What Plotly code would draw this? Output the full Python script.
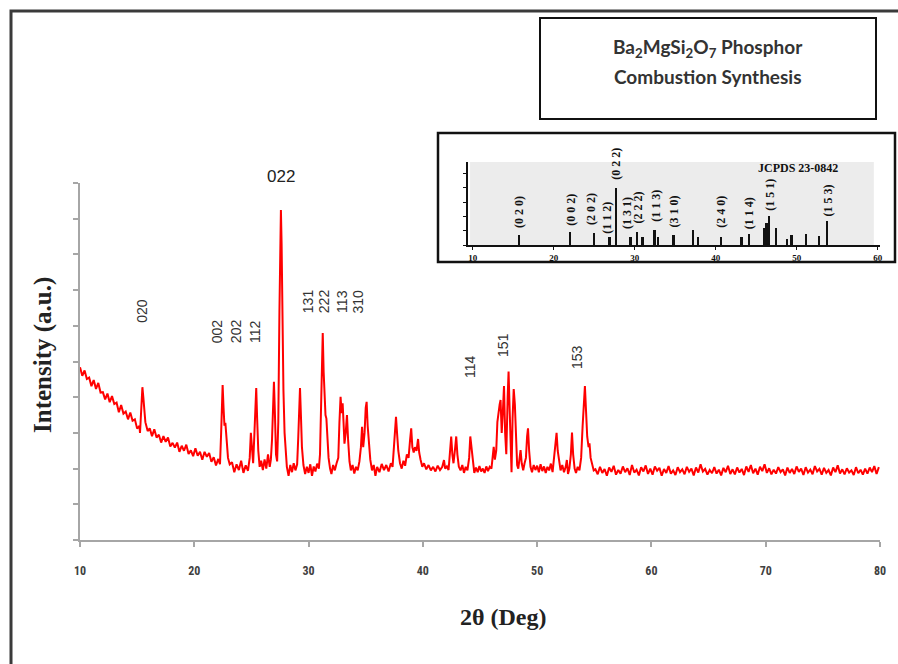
import plotly.graph_objects as go

# ---------------- measured XRD pattern (2θ in degrees, intensity in a.u.) ----------------
low_2theta = [
    10.0, 10.2, 10.4, 10.6, 10.8, 11.0, 11.2, 11.4, 11.6, 11.8,
    12.0, 12.2, 12.4, 12.6, 12.8, 13.0, 13.2, 13.4, 13.6, 13.8,
    14.0, 14.2, 14.4, 14.6, 14.8, 15.0, 15.2,
    15.25, 15.3, 15.38, 15.46, 15.54, 15.62, 15.72, 15.82, 15.92,
    16.1, 16.3, 16.5, 16.7, 16.9, 17.1, 17.3, 17.5, 17.7, 17.9,
    18.1, 18.3, 18.5, 18.7, 18.9, 19.1, 19.3, 19.5, 19.7, 19.9,
    20.1, 20.3, 20.5, 20.7, 20.9, 21.1, 21.3, 21.5, 21.7, 21.9, 22.1,
    22.25, 22.35, 22.42, 22.48, 22.56, 22.64, 22.72, 22.82, 22.95, 23.1,
]
low_counts = [
    484, 460, 475, 451, 455, 431, 448, 423, 440, 413,
    414, 394, 410, 386, 403, 381, 385, 358, 378, 354,
    360, 338, 357, 334, 338, 312, 320,
    300, 330, 395, 428, 400, 360, 330, 318, 305,
    313, 291, 310, 287, 295, 273, 291, 275, 287, 262,
    272, 259, 273, 247, 264, 250, 267, 241, 251, 235,
    257, 236, 247, 225, 247, 233, 244, 219, 232, 209, 227,
    212, 300, 400, 434, 370, 320, 328, 270, 230, 212,
]

mid_2theta = [
    23.3, 23.5, 23.7, 23.9, 24.1, 24.3, 24.5, 24.7, 24.85, 24.95,
    25.05, 25.15, 25.25, 25.34, 25.42, 25.5, 25.6, 25.72, 25.85, 26.0,
    26.15, 26.3, 26.45, 26.6, 26.7, 26.8, 26.9, 26.97, 27.05, 27.15,
    27.25, 27.35, 27.45, 27.52, 27.58, 27.64, 27.72, 27.8, 27.9, 28.0,
    28.1, 28.25, 28.4, 28.55, 28.7, 28.85, 29.0, 29.1, 29.18, 29.25,
    29.33, 29.42, 29.55, 29.7, 29.85, 30.0, 30.15, 30.3, 30.45, 30.6,
    30.75, 30.9, 31.0, 31.08, 31.16, 31.24, 31.32, 31.4, 31.48, 31.56,
    31.65, 31.75, 31.88, 32.0, 32.15, 32.3, 32.45, 32.6, 32.7, 32.8,
    32.9, 32.98, 33.06, 33.14, 33.25, 33.36, 33.46, 33.58, 33.7, 33.85,
    34.0, 34.15, 34.3, 34.45, 34.58, 34.68, 34.78, 34.9, 35.0, 35.08,
    35.17, 35.28, 35.4, 35.55, 35.7, 35.85, 36.0, 36.2, 36.4, 36.6,
    36.8, 37.0, 37.2, 37.35, 37.48, 37.58, 37.65, 37.74, 37.85, 38.0,
    38.15, 38.3, 38.45, 38.6, 38.75, 38.88, 38.98, 39.08, 39.2, 39.3,
    39.45, 39.58, 39.68, 39.8, 39.95, 40.1, 40.3, 40.5, 40.7, 40.9,
    41.1, 41.3, 41.5, 41.7, 41.85, 41.95, 42.1, 42.25, 42.38, 42.48,
    42.58, 42.68, 42.8, 42.92, 43.02, 43.15, 43.3, 43.45, 43.6, 43.75,
    43.9, 44.05, 44.15, 44.25, 44.38, 44.5, 44.65, 44.8, 44.95, 45.1,
    45.25, 45.4, 45.55, 45.7, 45.85, 46.0, 46.1, 46.2, 46.3, 46.42,
    46.52, 46.62, 46.72, 46.8, 46.9, 47.0, 47.1, 47.2, 47.3, 47.42,
    47.5, 47.58, 47.68, 47.76, 47.85, 47.95, 48.05, 48.15, 48.25, 48.35,
    48.45, 48.55, 48.65, 48.78, 48.9, 49.02, 49.12, 49.2, 49.3, 49.42,
    49.55, 49.7, 49.85, 50.0, 50.15, 50.3, 50.45, 50.6, 50.75, 50.9,
    51.05, 51.2, 51.35, 51.5, 51.62, 51.7, 51.8, 51.92, 52.05, 52.2,
    52.35, 52.5, 52.6, 52.7, 52.82, 52.95, 53.05, 53.15, 53.28, 53.4,
    53.55, 53.7, 53.85, 53.98, 54.08, 54.18, 54.28, 54.38, 54.5, 54.58,
    54.68, 54.8, 54.95,
]
mid_counts = [
    218, 190, 212, 196, 222, 188, 209, 194, 230, 300,
    245, 215, 290, 400, 426, 340, 250, 205, 222, 196,
    226, 200, 240, 205, 225, 280, 400, 443, 360, 240,
    220, 330, 640, 860, 924, 830, 600, 420, 300, 240,
    205, 180, 210, 190, 215, 195, 212, 290, 390, 426,
    350, 260, 210, 185, 205, 188, 212, 180, 206, 192,
    214, 200, 240, 330, 470, 580, 470, 380, 350, 340,
    280, 230, 200, 185, 210, 195, 215, 230, 330, 401,
    355, 383, 330, 270, 300, 350, 280, 220, 195, 210,
    186, 205, 195, 220, 260, 317, 260, 300, 370, 387,
    320, 260, 225, 195, 210, 180, 205, 190, 213, 196,
    210, 192, 215, 205, 270, 330, 345, 300, 250, 215,
    200, 222, 208, 240, 230, 280, 313, 260, 245, 260,
    250, 283, 245, 225, 205, 215, 198, 210, 195, 205,
    192, 208, 196, 205, 224, 200, 206, 196, 250, 290,
    240, 215, 250, 290, 240, 205, 195, 210, 188, 205,
    195, 230, 290, 260, 210, 188, 203, 190, 207, 192,
    200, 188, 206, 193, 205, 200, 230, 261, 225, 250,
    330, 360, 380, 392, 300, 360, 431, 300, 240, 400,
    472, 380, 220, 190, 340, 423, 380, 290, 210, 200,
    225, 252, 215, 195, 215, 230, 290, 313, 250, 205,
    190, 210, 196, 208, 190, 212, 193, 206, 188, 205,
    195, 214, 190, 240, 290, 300, 250, 220, 195, 210,
    190, 205, 224, 185, 200, 240, 301, 240, 200, 188,
    205, 195, 230, 320, 400, 431, 360, 290, 260, 271,
    230, 210, 195,
]

high_2theta = [
    55.1, 55.3, 55.5, 55.7, 55.9, 56.1, 56.3, 56.5, 56.7, 56.9,
    57.1, 57.3, 57.5, 57.7, 57.9, 58.1, 58.3, 58.5, 58.7, 58.9,
    59.1, 59.3, 59.5, 59.7, 59.9, 60.1, 60.3, 60.5, 60.7, 60.9,
    61.1, 61.3, 61.5, 61.7, 61.9, 62.1, 62.3, 62.5, 62.7, 62.9,
    63.1, 63.3, 63.5, 63.7, 63.9, 64.1, 64.3, 64.5, 64.7, 64.9,
    65.1, 65.3, 65.5, 65.7, 65.9, 66.1, 66.3, 66.5, 66.7, 66.9,
    67.1, 67.3, 67.5, 67.7, 67.9, 68.1, 68.3, 68.5, 68.7, 68.9,
    69.1, 69.3, 69.5, 69.7, 69.9, 70.1, 70.3, 70.5, 70.7, 70.9,
    71.1, 71.3, 71.5, 71.7, 71.9, 72.1, 72.3, 72.5, 72.7, 72.9,
    73.1, 73.3, 73.5, 73.7, 73.9, 74.1, 74.3, 74.5, 74.7, 74.9,
    75.1, 75.3, 75.5, 75.7, 75.9, 76.1, 76.3, 76.5, 76.7, 76.9,
    77.1, 77.3, 77.5, 77.7, 77.9, 78.1, 78.3, 78.5, 78.7, 78.9,
    79.1, 79.3, 79.5, 79.7, 79.9,
]
high_counts = [
    198, 184, 205, 188, 199, 180, 203, 191, 208, 183,
    196, 186, 206, 190, 201, 182, 210, 189, 197, 181,
    204, 192, 209, 185, 200, 183, 206, 194, 202, 180,
    199, 188, 207, 186, 195, 182, 204, 190, 198, 184,
    205, 191, 200, 181, 203, 189, 212, 192, 199, 183,
    196, 187, 204, 186, 197, 181, 202, 190, 208, 185,
    198, 184, 203, 189, 199, 182, 206, 191, 210, 187,
    200, 183, 205, 193, 212, 188, 201, 184, 197, 186,
    204, 190, 198, 181, 203, 188, 199, 185, 206, 191,
    200, 182, 204, 189, 197, 184, 207, 192, 199, 183,
    202, 188, 196, 181, 203, 190, 209, 186, 198, 184,
    201, 189, 195, 182, 204, 187, 197, 183, 200, 186,
    203, 190, 207, 185, 204,
]

# ---------------- Miller indices written over the measured peaks ----------------
hkl_labels = ["020", "002", "202", "112", "131", "222", "113", "310", "114", "151", "153"]
hkl_2theta = [15.4, 22.0, 23.65, 25.3, 29.95, 31.35, 32.9, 34.35, 44.12, 47.0, 53.5]
hkl_height = [641, 585, 585, 585, 669, 669, 669, 669, 487, 546, 513]
strong_label = "022"
strong_2theta = 27.55
strong_height = 985

# ---------------- JCPDS 23-0842 reference lines (relative intensity) ----------------
ref_2theta = [15.75, 22.05, 25.0, 26.9, 27.7, 29.5, 30.3, 31.0, 32.5, 32.9,
              34.8, 37.2, 37.85, 40.65, 43.2, 44.15, 46.0, 46.3, 46.6, 47.45,
              48.8, 49.4, 51.2, 52.8, 53.8]
ref_intensity = [17.5, 23, 21, 14, 100, 14, 23, 14, 26, 14,
                 17.5, 26, 14, 14, 14, 19, 30, 39, 51, 30,
                 10, 17.5, 19, 16, 42]
ref_hkl = ["(0 2 0)", "(0 0 2)", "(2 0 2)", "(1 1 2)", "(0 2 2)", "(1 3 1)", "(2 2 2)",
           "(1 1 3)", "(3 1 0)", "(2 4 0)", "(1 1 4)", "(1 5 1)", "(1 5 3)"]
ref_hkl_2theta = [15.75, 22.1, 24.6, 26.65, 27.7, 29.05, 30.37, 32.6, 34.8, 40.65, 44.15, 46.6, 53.8]
ref_hkl_height = [58, 61, 63, 47, 142, 56, 65, 68, 58, 58, 56, 88, 77]

two_theta = low_2theta + mid_2theta + high_2theta
counts = low_counts + mid_counts + high_counts

# ---------------- page geometry helpers (paper coordinates) ----------------
W, H = 898, 664
ML, MR, MT, MB = 80, 18, 10, 124
PW, PH = W - ML - MR, H - MT - MB


def px(x):
    return (x - ML) / PW


def py(y):
    return (H - MB - y) / PH


SERIF = "Liberation Serif, Times New Roman, serif"
SANS = "Liberation Sans, Arial, sans-serif"
NARROW = "Liberation Sans Narrow, Arial Narrow, Roboto Condensed, sans-serif"

fig = go.Figure()

fig.add_trace(go.Scatter(
    x=two_theta, y=counts, mode="lines",
    line=dict(color="#ff0000", width=2),
    xaxis="x", yaxis="y", showlegend=False, hoverinfo="skip",
))

fig.add_trace(go.Bar(
    x=ref_2theta, y=ref_intensity, width=0.24,
    marker=dict(color="#111111", line=dict(width=0)),
    xaxis="x2", yaxis="y2", showlegend=False, hoverinfo="skip",
))

annotations = []
for lab, xv, yv in zip(hkl_labels, hkl_2theta, hkl_height):
    annotations.append(dict(
        x=xv, y=yv, xref="x", yref="y", text=lab, textangle=-90, showarrow=False,
        xanchor="center", yanchor="middle",
        font=dict(family=SANS, size=14, color="#333333"),
    ))
annotations.append(dict(
    x=strong_2theta, y=strong_height, xref="x", yref="y", text=strong_label,
    showarrow=False, xanchor="center", yanchor="bottom",
    font=dict(family=SANS, size=17, color="#222222"),
))
for lab, xv, yv in zip(ref_hkl, ref_hkl_2theta, ref_hkl_height):
    annotations.append(dict(
        x=xv, y=yv, xref="x2", yref="y2", text="<b>%s</b>" % lab, textangle=-90,
        showarrow=False, xanchor="center", yanchor="middle",
        font=dict(family=SERIF, size=12, color="#111111"),
    ))
annotations.append(dict(
    x=50.2, y=135, xref="x2", yref="y2", text="<b>JCPDS 23-0842</b>", showarrow=False,
    xanchor="center", yanchor="middle",
    font=dict(family=SERIF, size=12, color="#111111"),
))

# title box text
annotations.append(dict(
    x=px(708), y=py(48), xref="paper", yref="paper", showarrow=False,
    xanchor="center", yanchor="middle",
    text="<b>Ba<sub>2</sub>MgSi<sub>2</sub>O<sub>7</sub> Phosphor</b>",
    font=dict(family="Lato, Open Sans, sans-serif", size=19, color="#333333"),
))
annotations.append(dict(
    x=px(708), y=py(77), xref="paper", yref="paper", showarrow=False,
    xanchor="center", yanchor="middle",
    text="<b>Combustion Synthesis</b>",
    font=dict(family="Lato, Open Sans, sans-serif", size=19, color="#333333"),
))

# axis titles
annotations.append(dict(
    x=px(503), y=py(617), xref="paper", yref="paper", showarrow=False,
    xanchor="center", yanchor="middle",
    text="<b>2θ (Deg)</b>", font=dict(family=SERIF, size=24, color="#222222"),
))
annotations.append(dict(
    x=px(43), y=py(355), xref="paper", yref="paper", showarrow=False, textangle=-90,
    xanchor="center", yanchor="middle",
    text="<b>Intensity (a.u.)</b>", font=dict(family=SERIF, size=25, color="#222222"),
))

shapes = [
    # outer frame
    dict(type="rect", xref="paper", yref="paper", x0=px(11), x1=px(910), y0=py(690), y1=py(11),
         line=dict(color="#3a3a3a", width=3), fillcolor="rgba(0,0,0,0)"),
    # title box
    dict(type="rect", xref="paper", yref="paper", x0=px(540), x1=px(876), y0=py(119), y1=py(18),
         line=dict(color="#111111", width=2), fillcolor="rgba(0,0,0,0)"),
    # inset frame
    dict(type="rect", xref="paper", yref="paper", x0=px(438), x1=px(895), y0=py(262), y1=py(133),
         line=dict(color="#111111", width=2.5), fillcolor="white", layer="below"),
    # inset shaded panel
    dict(type="rect", xref="x2 domain", yref="y2 domain", x0=0.005, x1=0.985, y0=0, y1=1,
         line=dict(width=0), fillcolor="#ececec", layer="below"),
]

axis_grey = "#a6a6a6"
fig.update_layout(
    width=W, height=H, autosize=False,
    margin=dict(l=ML, r=MR, t=MT, b=MB),
    paper_bgcolor="white", plot_bgcolor="rgba(0,0,0,0)",
    bargap=0,
    xaxis=dict(
        domain=[0, 1], range=[10, 80], dtick=10, tick0=10,
        showgrid=False, zeroline=False, showline=True, linecolor=axis_grey, linewidth=1.5,
        ticks="outside", ticklen=5, tickcolor=axis_grey, tickwidth=1.5,
        tickfont=dict(family=NARROW, size=12, color="#404040", weight="bold"),
        ticklabelstandoff=14, anchor="y",
    ),
    yaxis=dict(
        domain=[0, py(183)], range=[0, 1000], dtick=100,
        showgrid=False, zeroline=False, showline=True, linecolor=axis_grey, linewidth=1.5,
        ticks="outside", ticklen=5, tickcolor=axis_grey, tickwidth=1.5,
        showticklabels=False, anchor="x",
    ),
    xaxis2=dict(
        domain=[px(468), px(880)], range=[9.42, 60.28], dtick=10, tick0=10,
        showgrid=False, zeroline=False, showline=True, linecolor="#111111", linewidth=1.5,
        ticks="outside", ticklen=3, tickcolor="#111111",
        tickfont=dict(family=SERIF, size=9, color="#111111", weight="bold"),
        anchor="y2",
    ),
    yaxis2=dict(
        domain=[py(245), py(162)], range=[0, 145], dtick=25,
        showgrid=False, zeroline=False, showline=True, linecolor="#111111", linewidth=1.5,
        ticks="outside", ticklen=3, tickcolor="#111111",
        showticklabels=False, anchor="x2",
    ),
    annotations=annotations,
    shapes=shapes,
)

fig.write_html("out.html")
